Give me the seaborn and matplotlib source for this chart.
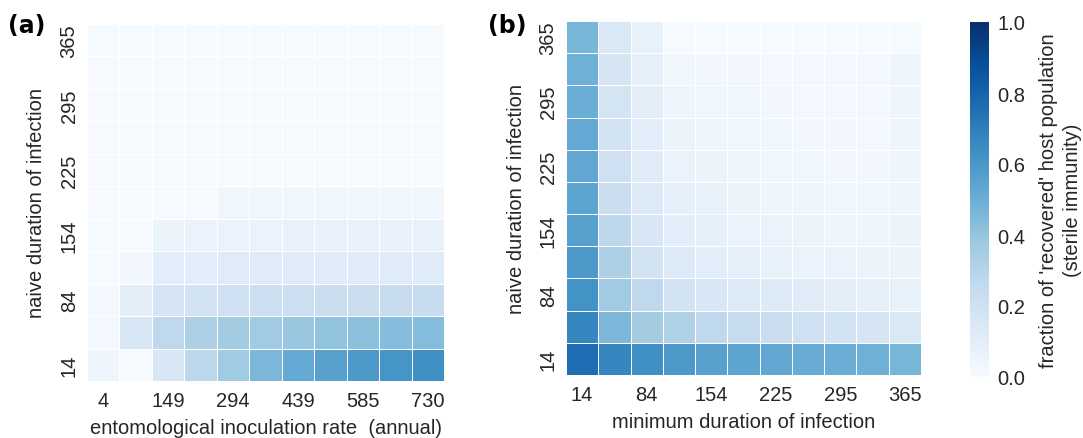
import pandas as pd
import seaborn as sns
import matplotlib.pyplot as plt

sns.set_style("white")
plt.rcParams['font.family'] = ['Liberation Sans', 'DejaVu Sans']

# tick labels
eir_labels = ['4', '76', '149', '222', '294', '367', '439', '512', '585', '657', '730']
dur_labels = ['14', '49', '84', '119', '154', '190', '225', '260', '295', '330', '365']

# (a) fraction recovered, one list per naive duration (columns = EIR)
a_14 = [0.05, 0.005, 0.16, 0.28, 0.37, 0.46, 0.52, 0.56, 0.59, 0.61, 0.63]
a_49 = [0.02, 0.16, 0.27, 0.33, 0.36, 0.37, 0.39, 0.41, 0.42, 0.43, 0.44]
a_84 = [0.02, 0.10, 0.17, 0.19, 0.21, 0.22, 0.22, 0.23, 0.23, 0.24, 0.24]
a_119 = [0.01, 0.03, 0.11, 0.11, 0.12, 0.12, 0.12, 0.12, 0.12, 0.12, 0.12]
a_154 = [0.01, 0.005, 0.06, 0.07, 0.065, 0.065, 0.075, 0.075, 0.075, 0.075, 0.075]
a_190 = [0.005, 0.005, 0.005, 0.005, 0.04, 0.04, 0.04, 0.04, 0.04, 0.04, 0.04]
a_225 = [0.005] * 11
a_260 = [0.005] * 11
a_295 = [0.005] * 11
a_330 = [0.005] * 11
a_365 = [0.01] * 11

# (b) fraction recovered, one list per naive duration (columns = minimum duration)
b_14 = [0.76, 0.67, 0.63, 0.59, 0.56, 0.54, 0.53, 0.51, 0.50, 0.49, 0.47]
b_49 = [0.67, 0.46, 0.36, 0.32, 0.27, 0.24, 0.23, 0.21, 0.19, 0.17, 0.15]
b_84 = [0.62, 0.37, 0.27, 0.19, 0.16, 0.14, 0.13, 0.12, 0.10, 0.09, 0.08]
b_119 = [0.59, 0.33, 0.19, 0.14, 0.11, 0.09, 0.08, 0.07, 0.07, 0.06, 0.06]
b_154 = [0.56, 0.28, 0.16, 0.11, 0.09, 0.07, 0.07, 0.06, 0.05, 0.05, 0.06]
b_190 = [0.54, 0.23, 0.14, 0.09, 0.08, 0.06, 0.05, 0.05, 0.04, 0.04, 0.05]
b_225 = [0.53, 0.21, 0.12, 0.07, 0.06, 0.05, 0.04, 0.04, 0.03, 0.03, 0.05]
b_260 = [0.52, 0.19, 0.11, 0.06, 0.05, 0.04, 0.04, 0.03, 0.03, 0.02, 0.05]
b_295 = [0.50, 0.18, 0.10, 0.05, 0.04, 0.04, 0.03, 0.02, 0.02, 0.02, 0.05]
b_330 = [0.49, 0.17, 0.09, 0.04, 0.03, 0.03, 0.02, 0.02, 0.02, 0.02, 0.05]
b_365 = [0.47, 0.15, 0.08, 0.005, 0.01, 0.01, 0.01, 0.01, 0.01, 0.01, 0.01]

df_a = pd.DataFrame([a_14, a_49, a_84, a_119, a_154, a_190, a_225, a_260, a_295, a_330, a_365],
                    index=dur_labels, columns=eir_labels)
df_b = pd.DataFrame([b_14, b_49, b_84, b_119, b_154, b_190, b_225, b_260, b_295, b_330, b_365],
                    index=dur_labels, columns=dur_labels)

W, H = 1083, 439
fs = 14.5
tc = '#262626'
fig = plt.figure(figsize=(W / 100, H / 100), dpi=100)
ax_a = fig.add_axes([87 / W, 1 - 382 / H, 357 / W, 357 / H])
ax_b = fig.add_axes([566 / W, 1 - 376 / H, 355 / W, 354 / H])
cax = fig.add_axes([970 / W, 1 - 378 / H, 19 / W, 355 / H])

sns.heatmap(df_a, ax=ax_a, cmap='Blues', vmin=0, vmax=1, linewidths=0.7, linecolor='white',
            xticklabels=2, yticklabels=2, cbar=False)
sns.heatmap(df_b, ax=ax_b, cmap='Blues', vmin=0, vmax=1, linewidths=0.7, linecolor='white',
            xticklabels=2, yticklabels=2, cbar_ax=cax)

for ax in (ax_a, ax_b):
    ax.invert_yaxis()
    ax.tick_params(axis='x', labelsize=fs, rotation=0, length=0, pad=7, labelcolor=tc)
    ax.tick_params(axis='y', labelsize=fs, rotation=90, length=0, pad=6, labelcolor=tc)
    for lab in ax.get_yticklabels():
        lab.set_va('center')

ax_a.set_xlabel('entomological inoculation rate  (annual)', fontsize=fs, color=tc, labelpad=6)
ax_a.set_ylabel('naive duration of infection', fontsize=fs, color=tc, labelpad=10)
ax_b.set_xlabel('minimum duration of infection', fontsize=fs, color=tc, labelpad=6)
ax_b.set_ylabel('naive duration of infection', fontsize=fs, color=tc, labelpad=9)

cax.tick_params(labelsize=fs, length=0, pad=6, labelcolor=tc)
cax.set_yticks([0, 0.2, 0.4, 0.6, 0.8, 1.0])
cax.set_ylabel("fraction of 'recovered' host population\n(sterile immunity)",
               fontsize=fs, color=tc, labelpad=10, linespacing=1.35)

fig.text(8 / W, 1 - 33 / H, '(a)', fontsize=17, weight='bold', family='DejaVu Sans', color='black')
fig.text(488 / W, 1 - 33 / H, '(b)', fontsize=17, weight='bold', family='DejaVu Sans', color='black')

fig.savefig('out.png', dpi=100)
